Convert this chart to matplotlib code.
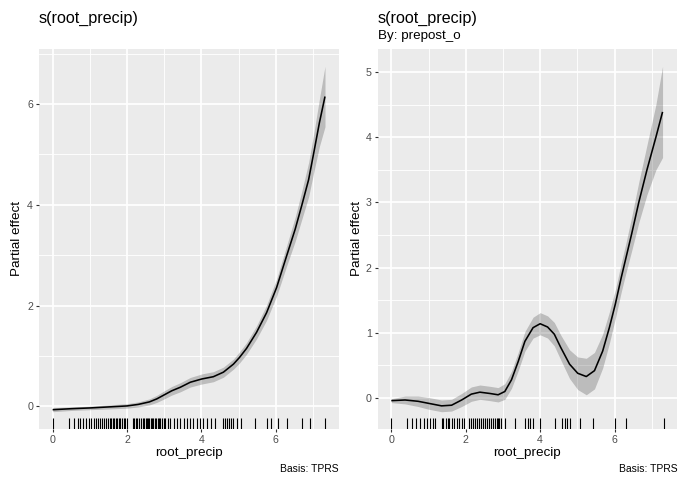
import numpy as np
import matplotlib
matplotlib.use("Agg")
import matplotlib.pyplot as plt
import matplotlib.transforms as mtransforms

plt.rcParams['font.family'] = ['Liberation Sans', 'DejaVu Sans']

# ---------------- data ----------------
left_x = [0, 0.5, 1, 1.5, 2, 2.3, 2.6, 2.8, 3.0, 3.2, 3.43, 3.70, 4.01, 4.32,
          4.59, 4.86, 5.02, 5.21, 5.48, 5.75, 6.02, 6.29, 6.52, 6.70, 6.88,
          7.01, 7.17, 7.32]
left_fit = [-0.065, -0.045, -0.03, -0.01, 0.01, 0.04, 0.09, 0.15, 0.23, 0.31,
            0.38, 0.48, 0.545, 0.59, 0.68, 0.84, 0.97, 1.15, 1.47, 1.86, 2.36,
            2.99, 3.52, 4.0, 4.5, 5.0, 5.63, 6.15]
left_half = [0.04, 0.035, 0.035, 0.04, 0.045, 0.05, 0.06, 0.07, 0.08, 0.085,
             0.09, 0.095, 0.1, 0.1, 0.1, 0.1, 0.11, 0.115, 0.13, 0.15, 0.17,
             0.2, 0.24, 0.28, 0.34, 0.38, 0.47, 0.6]
left_rug = [0.00, 0.45, 0.58, 0.67, 0.74, 0.82, 0.89, 0.97, 1.03, 1.10, 1.16,
            1.23, 1.28, 1.33, 1.39, 1.44, 1.49, 1.53, 1.57, 1.62, 1.66, 1.71,
            1.74, 1.78, 1.82, 1.86, 1.91, 1.95, 2.00, 2.15, 2.19, 2.24, 2.28,
            2.33, 2.37, 2.42, 2.46, 2.50, 2.53, 2.57, 2.60, 2.64, 2.68, 2.71,
            2.75, 2.78, 2.82, 2.85, 2.89, 2.94, 2.98, 3.03, 3.09, 3.16, 3.27,
            3.34, 3.43, 3.52, 3.61, 3.68, 3.76, 3.87, 3.96, 4.04, 4.14, 4.25,
            4.37, 4.59, 4.64, 4.68, 4.73, 4.79, 4.86, 4.95, 5.06, 5.44, 5.75,
            5.86, 6.07, 6.31, 6.69, 6.92, 7.33]

right_x = [0, 0.37, 0.72, 0.99, 1.35, 1.62, 1.89, 2.15, 2.38, 2.65, 2.87, 3.05,
           3.23, 3.41, 3.59, 3.81, 4.0, 4.2, 4.38, 4.55, 4.79, 5.01, 5.24, 5.46,
           5.68, 5.86, 6.02, 6.18, 6.31, 6.46, 6.65, 6.87, 7.11, 7.29]
right_fit = [-0.04, -0.03, -0.05, -0.08, -0.12, -0.11, -0.03, 0.06, 0.09, 0.07,
             0.05, 0.1, 0.28, 0.56, 0.87, 1.08, 1.14, 1.09, 0.98, 0.78, 0.52,
             0.38, 0.33, 0.42, 0.72, 1.08, 1.44, 1.85, 2.16, 2.52, 3.0, 3.5,
             4.0, 4.39]
right_half = [0.03, 0.06, 0.08, 0.09, 0.09, 0.09, 0.1, 0.11, 0.11, 0.11, 0.11,
              0.12, 0.13, 0.14, 0.15, 0.16, 0.17, 0.17, 0.18, 0.19, 0.22, 0.25,
              0.28, 0.28, 0.26, 0.24, 0.22, 0.22, 0.23, 0.26, 0.31, 0.38, 0.5,
              0.7]
right_rug = [0.00, 0.43, 0.55, 0.66, 0.77, 0.88, 0.96, 1.04, 1.11, 1.18, 1.35,
             1.40, 1.46, 1.51, 1.56, 1.62, 1.69, 1.76, 1.83, 1.89, 1.96, 2.08,
             2.14, 2.19, 2.24, 2.30, 2.35, 2.40, 2.46, 2.51, 2.56, 2.62, 2.67,
             2.73, 2.78, 2.83, 2.87, 2.90, 2.96, 3.05, 3.32, 3.58, 3.66, 3.73,
             3.82, 3.99, 4.39, 4.58, 4.66, 4.73, 4.80, 5.06, 5.42, 6.00, 6.31,
             7.32]

x_major = [0, 2, 4, 6]
x_minor = [1, 3, 5, 7]
left_y_major = [0, 2, 4, 6]
left_y_minor = [1, 3, 5, 7]
right_y_major = [0, 1, 2, 3, 4, 5]
right_y_minor = [0.5, 1.5, 2.5, 3.5, 4.5]

title_text = "s(root_precip)"
subtitle_text = "By: prepost_o"
xlabel_text = "root_precip"
ylabel_text = "Partial effect"
caption_text = "Basis: TPRS"

# ---------------- figure ----------------
W, H = 690, 487
fig = plt.figure(figsize=(W / 100, H / 100), dpi=100)


def add_panel(px0, px1, py0, py1):
    return fig.add_axes([px0 / W, 1 - py1 / H, (px1 - px0) / W, (py1 - py0) / H])


def expand(lo, hi, f=0.05):
    d = (hi - lo) * f
    return lo - d, hi + d


def draw(ax, x, fit, half, rug, ymaj, ymin):
    x = np.asarray(x, float)
    fit = np.asarray(fit, float)
    half = np.asarray(half, float)
    lo = fit - half
    hi = fit + half
    ax.set_facecolor('#EBEBEB')
    ax.set_axisbelow(True)
    ax.fill_between(x, lo, hi, color='black', alpha=0.2, linewidth=0, zorder=2)
    ax.plot(x, fit, color='black', lw=1.15, zorder=3, solid_capstyle='butt',
            solid_joinstyle='round')
    trans = mtransforms.blended_transform_factory(ax.transData, ax.transAxes)
    ax.vlines(rug, 0, 0.03, transform=trans, color='black', lw=0.8, zorder=3)
    xl = expand(min(x.min(), min(rug)), max(x.max(), max(rug)))
    yl = expand(lo.min(), hi.max())
    ax.set_xlim(*xl)
    ax.set_ylim(*yl)
    ax.set_xticks(x_major)
    ax.set_xticks(x_minor, minor=True)
    ax.set_yticks(ymaj)
    ax.set_yticks(ymin, minor=True)
    ax.grid(which='major', color='white', lw=1.25)
    ax.grid(which='minor', color='white', lw=0.62)
    for s in ax.spines.values():
        s.set_visible(False)
    ax.tick_params(which='major', length=2.5, width=0.8, color='#333333',
                   labelcolor='#4D4D4D', labelsize=7.7, pad=1.8)
    ax.tick_params(which='minor', length=0)


axL = add_panel(39, 339, 49, 429)
draw(axL, left_x, left_fit, left_half, left_rug, left_y_major, left_y_minor)
axR = add_panel(377.7, 677.3, 49, 429)
draw(axR, right_x, right_fit, right_half, right_rug, right_y_major, right_y_minor)

# titles
fig.text(39 / W, 1 - 22.5 / H, title_text, fontsize=11.6, ha='left', va='baseline')
fig.text(377.7 / W, 1 - 22.5 / H, title_text, fontsize=11.6, ha='left', va='baseline')
fig.text(377.7 / W, 1 - 39.3 / H, subtitle_text, fontsize=9.6, ha='left', va='baseline')

# axis titles
for cx, yx in [((39 + 339) / 2, 17), ((377.7 + 677.3) / 2, 357)]:
    fig.text(cx / W, 1 - 456 / H, xlabel_text, fontsize=9.7, ha='center', va='baseline')
    fig.text(yx / W, 1 - 239 / H, ylabel_text, fontsize=9.7, ha='center', va='center',
             rotation=90)

# captions
fig.text(338.5 / W, 1 - 472.3 / H, caption_text, fontsize=7.5, ha='right', va='baseline')
fig.text(677.3 / W, 1 - 472.3 / H, caption_text, fontsize=7.5, ha='right', va='baseline')

fig.savefig('out.png', dpi=100, facecolor='white')
